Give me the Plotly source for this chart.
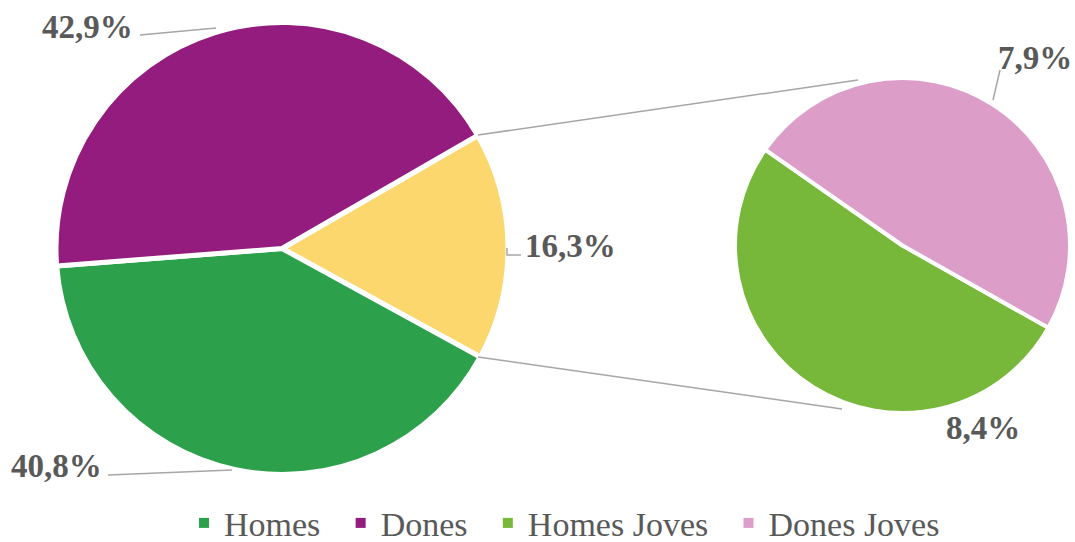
import plotly.graph_objects as go

# Data
main_labels = ["Joves", "Homes", "Dones"]
main_values = [16.3, 40.8, 42.9]
main_colors = ["#fcd76e", "#2ca04a", "#931c7e"]

sub_labels = ["Homes Joves", "Dones Joves"]
sub_values = [8.4, 7.9]
sub_colors = ["#77b83b", "#dc9dc8"]

legend_labels = ["Homes", "Dones", "Homes Joves", "Dones Joves"]
legend_colors = ["#2ca04a", "#931c7e", "#77b83b", "#dc9dc8"]

W, H = 1075, 542
TXT = "#595959"
FONT = "Liberation Serif"

def px(x):
    return x / W

def py(y):
    return 1 - y / H

fig = go.Figure()

fig.add_trace(go.Pie(
    labels=main_labels, values=main_values, sort=False, direction="clockwise",
    rotation=60, textinfo="none", hoverinfo="label+percent",
    marker=dict(colors=main_colors, line=dict(color="white", width=5)),
    domain=dict(x=[px(56), px(508)], y=[py(474.5), py(22.5)]),
    showlegend=False,
))

fig.add_trace(go.Pie(
    labels=sub_labels, values=sub_values, sort=False, direction="clockwise",
    rotation=119.4, textinfo="none", hoverinfo="label",
    marker=dict(colors=sub_colors, line=dict(color="white", width=4)),
    domain=dict(x=[px(735), px(1070)], y=[py(413), py(78)]),
    showlegend=False,
))

for lab, col in zip(legend_labels, legend_colors):
    fig.add_trace(go.Scatter(
        x=[None], y=[None], mode="markers", name=lab + "\u00a0\u2009",
        marker=dict(symbol="square", size=10, color=col),
    ))

# connector lines between pies
line_style = dict(color="#a6a6a6", width=1.5)
shapes = [
    dict(type="line", xref="paper", yref="paper", x0=px(478), y0=py(135), x1=px(858), y1=py(80), line=line_style),
    dict(type="line", xref="paper", yref="paper", x0=px(478), y0=py(357), x1=px(842), y1=py(409), line=line_style),
    # leader lines
    dict(type="line", xref="paper", yref="paper", x0=px(140), y0=py(35), x1=px(216), y1=py(28), line=line_style),
    dict(type="line", xref="paper", yref="paper", x0=px(108), y0=py(475), x1=px(232), y1=py(470), line=line_style),
    dict(type="path", xref="paper", yref="paper",
         path=f"M {px(507)} {py(248)} L {px(507)} {py(255)} L {px(521)} {py(255)}", line=line_style),
    dict(type="line", xref="paper", yref="paper", x0=px(993), y0=py(100), x1=px(1000), y1=py(70), line=line_style),
]

ann_font = dict(family=FONT, size=33, color=TXT, weight="bold")
annotations = [
    dict(text="42,9%", x=px(87), y=py(27)),
    dict(text="40,8%", x=px(56), y=py(466)),
    dict(text="16,3%", x=px(570), y=py(246)),
    dict(text="7,9%", x=px(1035), y=py(58)),
    dict(text="8,4%", x=px(983), y=py(428)),
]
annotations = [dict(a, xref="paper", yref="paper", showarrow=False, font=ann_font,
                    xanchor="center", yanchor="middle") for a in annotations]

fig.update_layout(
    width=W, height=H,
    margin=dict(l=0, r=0, t=0, b=0, autoexpand=False),
    paper_bgcolor="white", plot_bgcolor="white",
    xaxis=dict(visible=False), yaxis=dict(visible=False),
    shapes=shapes, annotations=annotations,
    showlegend=True,
    legend=dict(orientation="h", x=px(572), xanchor="center", y=-0.019, yanchor="bottom",
                font=dict(family=FONT, size=34, color=TXT), itemwidth=30,
                bgcolor="rgba(0,0,0,0)"),
)

fig.write_html("out.html", config={"displayModeBar": False},
               post_script="document.body.style.margin='0';document.body.style.overflow='hidden';")
